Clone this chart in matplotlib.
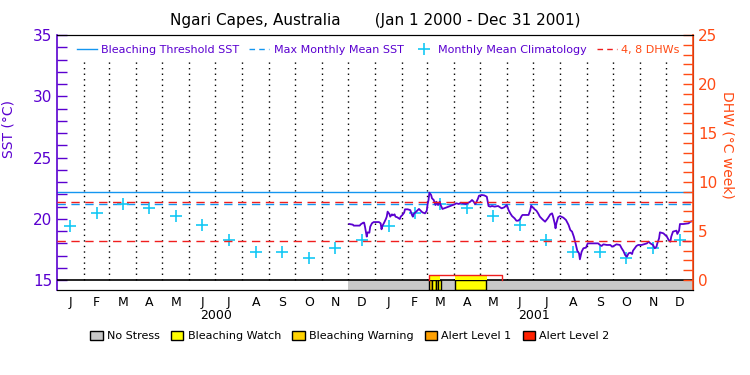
import numpy as np
import matplotlib.pyplot as plt
from matplotlib.lines import Line2D
from matplotlib.patches import Patch

# ---- values (x = days since 1 Jan 2000) ----
sst_day = [336, 340, 341, 348, 349, 352, 353, 354, 355, 356, 357, 359, 360, 362, 364, 370,
           372, 373, 374, 376, 378, 379, 380, 382, 383, 385, 386, 388, 389, 391, 394, 395,
           397, 399, 400, 403, 406, 408, 409, 410, 412, 414, 416, 418, 420, 423, 425, 426,
           427, 428, 430, 431, 433, 435, 436, 438, 440, 441, 443, 445, 448, 452, 457, 459,
           462, 464, 467, 470, 475, 477, 479, 480, 481, 484, 485, 488, 491, 494, 496, 498,
           500, 503, 507, 511, 514, 517, 519, 521, 523, 526, 528, 530, 532, 534, 535, 542,
           544, 545, 546, 549, 551, 553, 555, 558, 561, 564, 567, 569, 570, 572, 573, 574,
           576, 578, 582, 585, 588, 590, 592, 594, 596, 598, 600, 601, 603, 605, 608, 610,
           613, 622, 624, 626, 628, 632, 636, 638, 640, 643, 647, 649, 651, 653, 655, 657,
           659, 661, 662, 664, 666, 668, 672, 678, 680, 682, 685, 686, 687, 689, 690, 692,
           693, 697, 699, 701, 703, 705, 706, 708, 712, 713, 715, 716, 720, 726, 728, 731]
sst_val = [19.57, 19.52, 19.44, 19.44, 19.54, 19.68, 19.68, 19.35, 18.95, 18.54, 18.89, 18.86,
           19.35, 19.63, 19.73, 19.73, 19.63, 19.14, 19.41, 19.68, 19.98, 20.17, 20.58, 20.39,
           20.17, 20.36, 20.28, 20.36, 20.17, 20.12, 19.98, 20.17, 20.31, 20.50, 20.77, 20.77,
           20.71, 20.31, 20.17, 20.39, 20.52, 20.66, 20.80, 20.66, 20.52, 20.44, 20.66, 21.20,
           21.53, 22.13, 21.94, 21.67, 21.53, 21.12, 21.39, 21.12, 21.39, 21.12, 20.80, 20.85,
           20.93, 21.04, 21.18, 21.26, 21.20, 21.31, 21.26, 21.20, 21.39, 21.53, 21.39, 21.26,
           21.20, 21.67, 21.88, 21.94, 21.91, 21.80, 21.04, 20.99, 21.04, 20.99, 21.04, 20.85,
           20.93, 21.12, 20.71, 20.44, 20.22, 20.03, 19.84, 19.84, 19.95, 20.22, 20.31, 20.31,
           20.71, 21.07, 20.99, 20.77, 20.66, 20.44, 20.17, 19.95, 19.76, 20.03, 20.36, 20.44,
           20.22, 19.63, 19.22, 19.63, 20.12, 20.22, 20.09, 19.90, 19.49, 19.08, 18.95, 18.54,
           17.99, 17.39, 17.18, 16.69, 17.31, 17.59, 17.64, 17.99, 17.99, 17.99, 17.86, 17.78,
           17.91, 17.86, 17.86, 17.72, 17.78, 17.91, 17.86, 17.59, 17.37, 17.04, 16.90, 17.18,
           17.23, 17.12, 17.39, 17.59, 17.78, 17.86, 17.86, 17.99, 18.13, 17.99, 17.86, 17.72,
           17.59, 17.72, 17.99, 18.40, 18.89, 18.81, 18.67, 18.54, 18.27, 18.13, 18.54, 18.95,
           19.03, 18.76, 19.03, 19.57, 19.57, 19.63, 19.76, 19.82]

clim_val = [19.4, 20.5, 21.2, 20.9, 20.2, 19.5, 18.3, 17.3, 17.3, 16.8, 17.6, 18.3]
mmm = 21.2
threshold = 22.2
dhw_levels = [4, 8]

# DHW outline (only non-zero stretch) and HotSpot shading
dhw_day = [427, 427, 512, 512]
dhw_val = [0, 0.5, 0.5, 0]
hotspot_spans = [(427, 440), (457, 494)]

# stress bar: (start, end, level)
stress_spans = [(335, 731, 0), (427, 431, 2), (431, 436, 1), (436, 438, 1),
                (438, 441, 1), (458, 493, 1)]
stress_names = ['No Stress', 'Bleaching Watch', 'Bleaching Warning', 'Alert Level 1', 'Alert Level 2']
stress_cols = ['#c8c8c8', '#ffff00', '#ffd200', '#ffa000', '#ff2000']

purple = '#5a00d0'
orange = '#ff4a14'
blue = '#1496f0'
cyan = '#14c8f5'
red = '#f01e1e'

# month geometry
start = np.datetime64('2000-01-01')
months = np.arange('2000-01', '2002-02', dtype='datetime64[M]').astype('datetime64[D]')
m_start = (months - start).astype(int)
m_mid = (m_start[:-1] + m_start[1:]) / 2
m_lab = ['J', 'F', 'M', 'A', 'M', 'J', 'J', 'A', 'S', 'O', 'N', 'D'] * 2

fig = plt.figure(figsize=(7.5, 3.75), dpi=100)
ax = fig.add_axes([57/750, 85/375, 636/750, 255/375])
ax.set_xlim(0, 731)
ax.set_ylim(15 - 10/12.25, 35)

# stress bar
for s, e, lev in stress_spans:
    ax.axvspan(s, e, ymin=0, ymax=10/255, facecolor=stress_cols[lev],
               edgecolor='black' if lev > 0 else 'none', lw=1, zorder=2)
ax.axhline(15, color='black', lw=1.2, zorder=3)

# month dividers
ax.vlines(m_start[1:-1], 15, 33.1, colors='black', linestyles=(0, (1, 3)), lw=1, zorder=1)

ax.axhline(threshold, color=blue, lw=1, zorder=2)
ax.axhline(mmm, color=blue, lw=1, ls=(0, (6, 4)), zorder=2)
ax.plot(m_mid, clim_val * 2, ls='none', marker='+', color=cyan, ms=9, mew=1.2, zorder=4)
ax.plot(sst_day, sst_val, color=purple, lw=1.3, zorder=5)

ax2 = ax.twinx()
ax2.set_ylim(-10/9.8, 25)
for d in dhw_levels:
    ax2.axhline(d, color=red, lw=1, ls=(0, (6, 4)), zorder=3)
for s, e in hotspot_spans:
    ax2.fill_between([s, e], 0, 0.5, color='#ffff00', lw=0, zorder=2)
ax2.plot(dhw_day, dhw_val, color=red, lw=1, zorder=3)

# axes styling
ax.set_yticks([15, 20, 25, 30, 35])
ax.set_yticks(range(15, 36), minor=True)
ax.tick_params(axis='y', which='both', direction='in', length=7, color=purple,
               labelcolor=purple, labelsize=11, width=1)
ax.spines['left'].set_color(purple)
ax.spines['left'].set_linewidth(1.2)
ax.set_xticks(m_mid)
ax.set_xticklabels(m_lab, fontsize=9)
ax.tick_params(axis='x', length=0, pad=4)
for yr, mid in zip(['2000', '2001'], [183, 548]):
    ax.text(mid, -0.1, yr, transform=ax.get_xaxis_transform(), ha='center', va='center', fontsize=9)
ax.set_ylabel('SST (°C)', color=purple, fontsize=10)
ax.yaxis.set_label_coords(-0.066, 0.63)

ax2.set_yticks([0, 5, 10, 15, 20, 25])
ax2.set_yticks(range(0, 26), minor=True)
ax2.tick_params(axis='y', which='both', direction='in', length=7, color=orange,
                labelcolor=orange, labelsize=11, width=1)
ax2.spines['right'].set_color(orange)
ax2.spines['right'].set_linewidth(1.2)
ax2.spines['left'].set_visible(False)
ax2.set_ylabel('DHW (°C week)', color=orange, fontsize=10, rotation=270, labelpad=14)
ax2.yaxis.set_label_coords(1.066, 0.57)

fig.suptitle('Ngari Capes, Australia       (Jan 1 2000 - Dec 31 2001)', y=0.965, fontsize=11)

handles = [Line2D([], [], color=blue, lw=1),
           Line2D([], [], color=blue, lw=1, ls=(0, (4, 3))),
           Line2D([], [], ls='none', marker='+', color=cyan, ms=8, mew=1.2),
           Line2D([], [], color=red, lw=1, ls=(0, (4, 3)))]
labels = ['Bleaching Threshold SST', 'Max Monthly Mean SST', 'Monthly Mean Climatology', '4, 8 DHWs']
ax2.legend(handles, labels, loc='upper center', bbox_to_anchor=(0.505, 1.0), ncol=4, frameon=False,
           fontsize=8, handlelength=1.8, columnspacing=0.9, handletextpad=0.4,
           labelcolor=[purple, purple, purple, orange])

sh = [Patch(facecolor=c, edgecolor='black', lw=1) for c in stress_cols]
fig.legend(sh, stress_names, loc='center', bbox_to_anchor=(350/750, 1 - 336/375), ncol=5,
           frameon=False, fontsize=8, handlelength=1.1, handleheight=0.9,
           columnspacing=1.0, handletextpad=0.4)

fig.savefig('out.png', dpi=100)
